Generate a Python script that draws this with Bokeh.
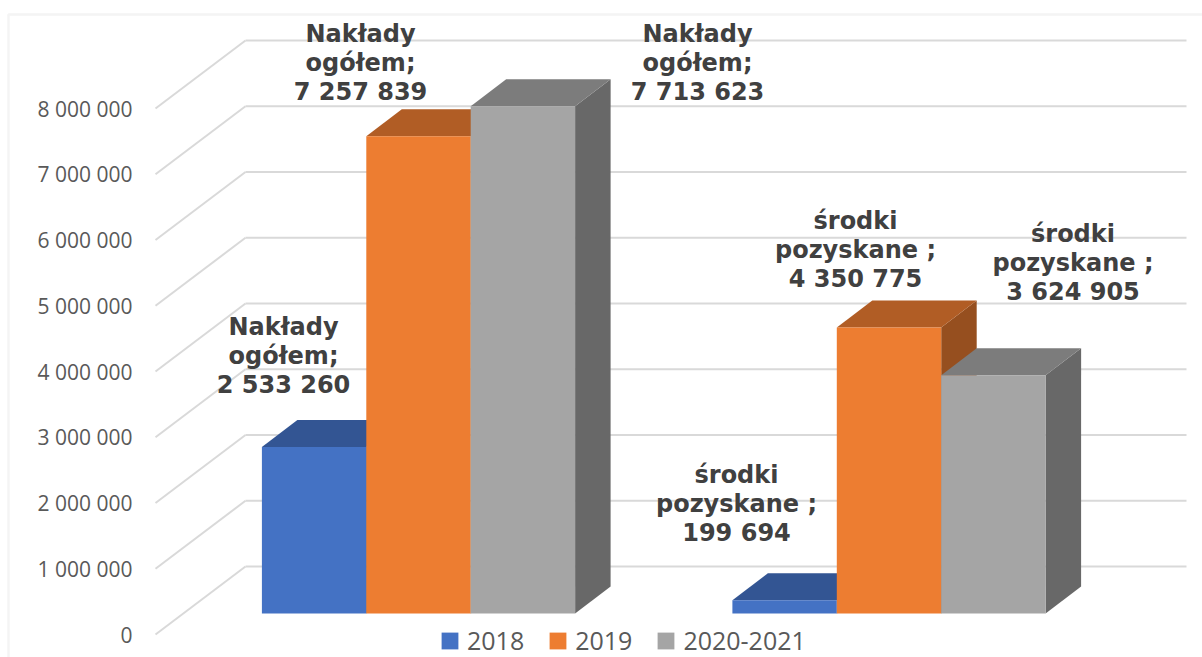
from bokeh.plotting import figure
from bokeh.embed import file_html
from bokeh.resources import INLINE
from bokeh.models import Range1d, BoxAnnotation, Legend, LegendItem, FixedTicker
from bokeh.core.properties import value

groups = ["Nakłady ogółem", "środki pozyskane"]
series = ["2018", "2019", "2020-2021"]
values_2018 = [2533260, 199694]
values_2019 = [7257839, 4350775]
values_2021 = [7713623, 3624905]
tick_values = [0, 1000000, 2000000, 3000000, 4000000, 5000000, 6000000, 7000000, 8000000]
tick_labels = ["0", "1 000 000", "2 000 000", "3 000 000", "4 000 000",
               "5 000 000", "6 000 000", "7 000 000", "8 000 000"]
label_titles = [["Nakłady", "ogółem;"], ["środki", "pozyskane ;"]]
value_labels = [["2 533 260", "7 257 839", "7 713 623"], ["199 694", "4 350 775", "3 624 905"]]

front = ["#4472C4", "#ED7D31", "#A5A5A5"]
top = ["#335593", "#B15D25", "#7C7C7C"]
side = ["#2A4678", "#964F1F", "#686868"]

# scales: one group step is 470.5 px, one million is 65.75 px
PXX = 470.5
PXY = 65.75 / 1e6
x0 = -418 / PXX
x1 = (1202 - 418) / PXX
y_bottom = (634 - 657) / PXY
y_top = 634 / PXY

p = figure(width=1202, height=657, output_backend="svg", toolbar_location=None,
           x_range=Range1d(x0, x1), y_range=Range1d(y_bottom, y_top),
           x_axis_location=None, min_border_left=0, min_border_right=0,
           min_border_top=0, min_border_bottom=0, outline_line_color=None,
           background_fill_color="white", border_fill_color="white")
p.grid.visible = False

ax = p.yaxis[0]
ax.fixed_location = (140 - 418) / PXX
ax.ticker = FixedTicker(ticks=tick_values)
ax.major_label_overrides = {v: s for v, s in zip(tick_values, tick_labels)}
ax.axis_line_color = None
ax.major_tick_line_color = None
ax.minor_tick_line_color = None
ax.major_label_standoff = 2
ax.major_label_text_font = "Open Sans"
ax.major_label_text_font_size = "21px"
ax.major_label_text_color = "#595959"

# 3D geometry
wall_dx = 90 / PXX
wall_dy = 68 / PXY
axis_x = (155 - 418) / PXX
grid_right = (1186 - 418) / PXX
bar_w = 104.4 / PXX
bar_dx = 35.5 / PXX
bar_dy = 27 / PXY
floor_dy = 21 / PXY

GRID = "#D9D9D9"
p.segment(x0=[axis_x] * 9, y0=tick_values, x1=[axis_x + wall_dx] * 9,
          y1=[v + wall_dy for v in tick_values], line_color=GRID, line_width=2)
p.segment(x0=[axis_x + wall_dx] * 9, y0=[v + wall_dy for v in tick_values],
          x1=[grid_right] * 9, y1=[v + wall_dy for v in tick_values],
          line_color=GRID, line_width=2)

all_vals = [values_2018, values_2019, values_2021]
legend_items = []
for g in range(len(groups)):
    for s in range(len(series)):
        v = all_vals[s][g]
        left = g + (s - 1.5) * bar_w
        right = left + bar_w
        base = floor_dy
        head = floor_dy + v
        p.patch([right, right + bar_dx, right + bar_dx, right],
                [base, base + bar_dy, head + bar_dy, head], color=side[s], line_width=0)
        p.patch([left, right, right + bar_dx, left + bar_dx],
                [head, head, head + bar_dy, head + bar_dy], color=top[s], line_width=0)
        r = p.quad(left=left, right=right, bottom=base, top=head, color=front[s], line_width=0)
        if g == 0:
            legend_items.append(LegendItem(label=series[s], renderers=[r]))

leg = Legend(items=legend_items, orientation="horizontal", location=(439, 0),
             background_fill_alpha=0, border_line_color=None, padding=0, margin=0,
             glyph_width=21, glyph_height=21, spacing=23, label_standoff=7,
             label_text_font="Open Sans", label_text_font_size="25px",
             label_text_color="#595959")
p.add_layout(leg, "center")

# data labels: centre x in px, first line y in px (placement only)
label_cx = [[283, 360, 697], [736, 855, 1072.5]]
label_y = [[326, 33, 33], [474, 220, 233]]
LINE = 29
for g in range(2):
    for s in range(3):
        lines = label_titles[g] + [value_labels[g][s]]
        for i, t in enumerate(lines):
            p.text(x=[(label_cx[g][s] - 418) / PXX], y=[(634 - (label_y[g][s] + i * LINE)) / PXY],
                   text=[t], text_align="center", text_baseline="middle",
                   text_font=value("DejaVu Sans"), text_font_style="bold",
                   text_font_size="24px", text_color="#404040")

# chart border: only top and left edges fall inside the picture
p.add_layout(BoxAnnotation(left=8, right=1240, top=14, bottom=700,
                           left_units="canvas", right_units="canvas",
                           top_units="canvas", bottom_units="canvas",
                           fill_alpha=0, line_color="#D9D9D9", line_width=2.5))

open("out.html", "w").write(file_html(p, INLINE))
